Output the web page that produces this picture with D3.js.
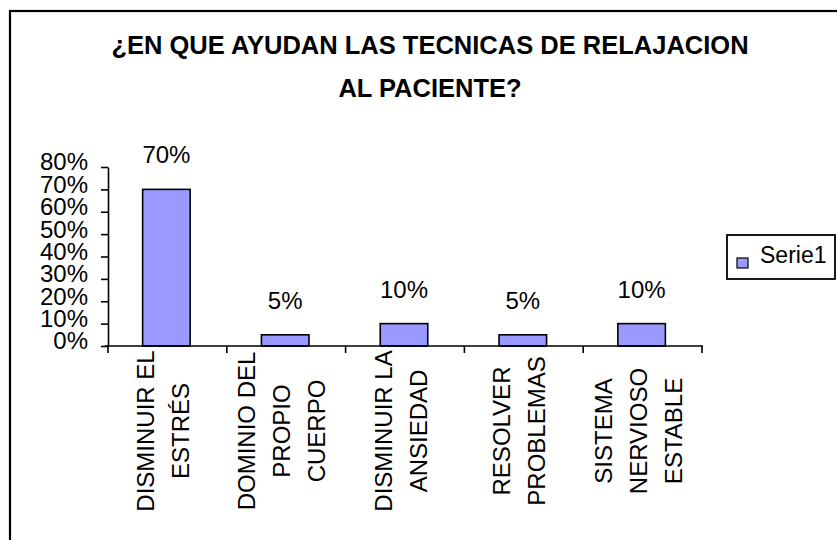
<!DOCTYPE html>
<html lang="es">
<head>
<meta charset="UTF-8" />
<title>Técnicas de relajación</title>
<script src="https://d3js.org/d3.v7.min.js"></script>
<style>
  body { margin: 0; background: #fff; }
  svg { display: block; font-family: "Liberation Sans", Arial, sans-serif; }
  .axis path, .axis line { stroke: #000; stroke-width: 1.6px; }
  .axis text { font-size: 24px; fill: #000; }
</style>
</head>
<body>
<script>
// datos
const categorias = [
  ["DISMINUIR EL", "ESTRÉS"],
  ["DOMINIO DEL", "PROPIO", "CUERPO"],
  ["DISMINUIR LA", "ANSIEDAD"],
  ["RESOLVER", "PROBLEMAS"],
  ["SISTEMA", "NERVIOSO", "ESTABLE"]
];
const valores = [0.70, 0.05, 0.10, 0.05, 0.10];
const ticksY = [0, 0.1, 0.2, 0.3, 0.4, 0.5, 0.6, 0.7, 0.8];
const serie = "Serie1";
const titulo = ["¿EN QUE AYUDAN LAS TECNICAS DE RELAJACION", "AL PACIENTE?"];

const width = 837, height = 540;
const plot = { left: 108, right: 702, top: 167, bottom: 346 };

const svg = d3.select("body").append("svg")
  .attr("width", width)
  .attr("height", height);

svg.append("rect")
  .attr("width", width).attr("height", height)
  .attr("fill", "#fff");

// marco exterior (se sale por la derecha y abajo)
svg.append("rect")
  .attr("x", 10).attr("y", 11)
  .attr("width", width + 20).attr("height", height + 20)
  .attr("fill", "none")
  .attr("stroke", "#000")
  .attr("stroke-width", 2.2);

// título
svg.append("g").selectAll("text")
  .data(titulo)
  .join("text")
  .attr("x", 430)
  .attr("y", (d, i) => 54 + i * 43)
  .attr("text-anchor", "middle")
  .style("font-size", "25.5px")
  .style("font-weight", "bold")
  .text(d => d);

const x = d3.scaleBand()
  .domain(d3.range(categorias.length))
  .range([plot.left, plot.right]);

const y = d3.scaleLinear()
  .domain([0, 0.8])
  .range([plot.bottom, plot.top]);

const barW = x.bandwidth() / 2.5;

// eje Y
const yAxis = svg.append("g")
  .attr("class", "axis")
  .attr("transform", `translate(${plot.left},0)`)
  .call(d3.axisLeft(y).tickValues(ticksY).tickFormat(d3.format(".0%"))
    .tickSize(7).tickSizeOuter(0).tickPadding(13));
yAxis.selectAll("text").attr("dy", "0.12em");

// barras
svg.append("g").selectAll("rect")
  .data(valores)
  .join("rect")
  .attr("x", (d, i) => x(i) + x.bandwidth() / 2 - barW / 2 - 1)
  .attr("y", d => y(d))
  .attr("width", barW)
  .attr("height", d => y(0) - y(d))
  .attr("fill", "#9999ff")
  .attr("stroke", "#000")
  .attr("stroke-width", 1.6);

// etiquetas de datos
svg.append("g").selectAll("text")
  .data(valores)
  .join("text")
  .attr("x", (d, i) => x(i) + x.bandwidth() / 2 - 1)
  .attr("y", d => y(d) - 26)
  .attr("text-anchor", "middle")
  .style("font-size", "24px")
  .text(d => d3.format(".0%")(d));

// eje X: línea y marcas en los límites de categoría
const ejeX = svg.append("g").attr("class", "axis");
ejeX.append("line")
  .attr("x1", plot.left - 3).attr("x2", plot.right + 1)
  .attr("y1", y(0)).attr("y2", y(0));
const limites = x.domain().map(i => x(i)).concat([plot.right]);
ejeX.selectAll("line.tick")
  .data(limites)
  .join("line")
  .attr("class", "tick")
  .attr("x1", d => d).attr("x2", d => d)
  .attr("y1", y(0)).attr("y2", y(0) + 7);

// etiquetas de categoría rotadas
const lineH = 35;
const cat = svg.append("g").selectAll("g")
  .data(categorias)
  .join("g")
  .attr("transform", (d, i) => `translate(${x(i) + x.bandwidth() / 2 - 4.5},431)`);
cat.selectAll("text")
  .data(d => d.map((t, j) => ({ t, off: (j - (d.length - 1) / 2) * lineH })))
  .join("text")
  .attr("transform", d => `translate(${d.off},0) rotate(-90)`)
  .attr("text-anchor", "middle")
  .attr("dy", "0.36em")
  .style("font-size", "24px")
  .text(d => d.t);

// leyenda
const leg = svg.append("g").attr("transform", "translate(727,235)");
leg.append("rect")
  .attr("width", 108).attr("height", 44)
  .attr("fill", "#fff")
  .attr("stroke", "#000")
  .attr("stroke-width", 1.8);
leg.append("rect")
  .attr("x", 10).attr("y", 23)
  .attr("width", 11).attr("height", 10)
  .attr("fill", "#9999ff")
  .attr("stroke", "#000")
  .attr("stroke-width", 1.2);
leg.append("text")
  .attr("x", 33).attr("y", 28)
  .style("font-size", "23px")
  .text(serie);
</script>
</body>
</html>
